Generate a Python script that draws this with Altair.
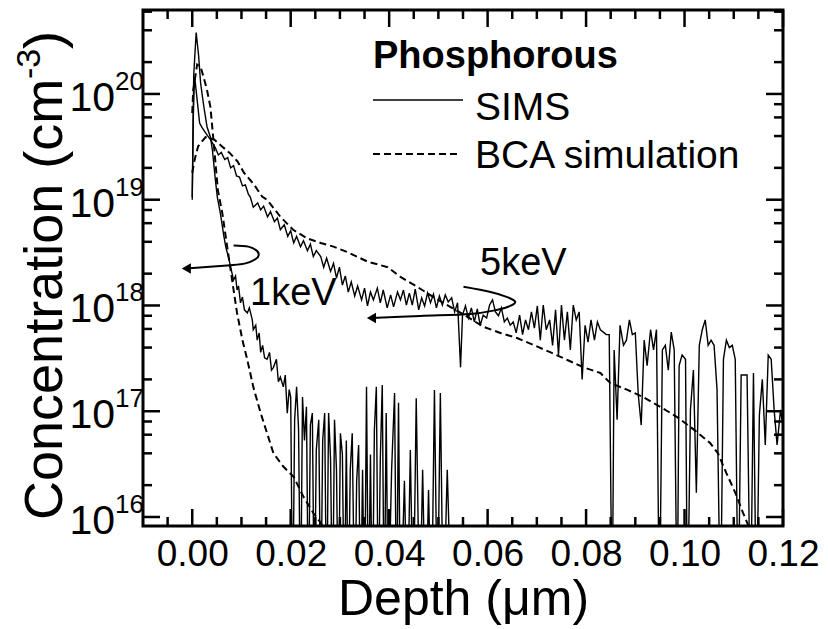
import altair as alt
import pandas as pd

FONT = "Liberation Sans"
W, H = 640, 516
X_DOMAIN = [-0.01, 0.12]
Y_DOMAIN = [8.22e15, 6.22e20]
FLOOR = 1e15  # readings that drop below the axis (zero counts)
B = FLOOR

# ---------------- data ----------------
sims1_depth = [0.0000, 0.0003, 0.0008, 0.0013, 0.0017, 0.0023, 0.0030, 0.0037, 0.0041, 0.0047,
               0.0051, 0.0057, 0.0064, 0.0068, 0.0074, 0.0078, 0.0084, 0.0088, 0.0091, 0.0094,
               0.0098, 0.0102, 0.0106, 0.0112, 0.0116, 0.0122, 0.0124, 0.0129, 0.0132, 0.0136,
               0.0139, 0.0143, 0.0147, 0.0152, 0.0157, 0.0161, 0.0165, 0.0171, 0.0175, 0.0179,
               0.0185, 0.0189, 0.0193, 0.0197, 0.0200,
               0.0204, 0.0208, 0.0212, 0.0216, 0.0220, 0.0224, 0.0228, 0.0232, 0.0236, 0.0240,
               0.0244, 0.0248, 0.0252, 0.0257, 0.0261, 0.0265, 0.0269, 0.0273, 0.0277, 0.0281,
               0.0285, 0.0289, 0.0293, 0.0297, 0.0301, 0.0305, 0.0309, 0.0313, 0.0317, 0.0321,
               0.0325, 0.0330, 0.0334, 0.0338, 0.0342, 0.0346, 0.0350, 0.0354, 0.0358, 0.0362,
               0.0366, 0.0370, 0.0374, 0.0378, 0.0382, 0.0386, 0.0390, 0.0394, 0.0398, 0.0405,
               0.0411, 0.0415, 0.0419, 0.0423, 0.0431, 0.0437, 0.0443, 0.0449, 0.0455, 0.0462,
               0.0468, 0.0474, 0.0480, 0.0486, 0.0492, 0.0498, 0.0504, 0.0510, 0.0518, 0.0527]
sims1_conc = [1.0e19, 1.5e20, 3.8e20, 2.3e20, 1.27e20, 7.9e19, 4.9e19, 3.9e19, 2.95e19, 1.54e19,
              1.06e19, 7.5e18, 4.6e18, 3.6e18, 2.8e18, 2.3e18, 1.74e18, 1.9e18, 1.4e18, 1.53e18,
              1.06e18, 1.2e18, 9.1e17, 8.5e17, 9.5e17, 7.3e17, 5.9e17, 6.5e17, 4.7e17, 5.5e17,
              3.6e17, 4.2e17, 3.2e17, 3.1e17, 3.6e17, 2.45e17, 2.6e17, 3.1e17, 1.9e17, 2.1e17,
              1.7e17, 2.2e17, 9.6e16, 1.6e17, 1.36e17,
              B, 8.3e16, 1.7e17, 6.7e16, B, 1.36e17, 5.3e16, 1.1e17, B, 7.4e16,
              9.6e16, B, 4.3e16, 8.3e16, B, 5.3e16, 9.6e16, B, 9.6e16, 3.5e16,
              B, 8.3e16, 2.8e16, B, 6.2e16, 3.9e16, B, 5.3e16, B, 2.8e16,
              6.2e16, B, 2.2e16, 4.8e16, B, 2.8e16, B, 1.7e17, B, 3.9e16,
              B, 6.7e16, 1.7e17, B, 3.5e16, 1.77e17, B, 9.6e16, B, 2.8e16,
              1.49e17, B, 1.2e17, B, 2.2e16, B, 4.3e16, B, 1.33e17, B,
              2.8e16, B, 1.8e16, B, 1.59e17, B, 1.49e17, B, 2.8e16, B]

sims5_depth = [0.0000, 0.0002, 0.0004, 0.0005, 0.0010, 0.0015, 0.0020, 0.0030, 0.0037, 0.0047,
               0.0053, 0.0059, 0.0066, 0.0072, 0.0078, 0.0084, 0.0090, 0.0096, 0.0102, 0.0108,
               0.0114, 0.0118, 0.0124, 0.0133, 0.0139, 0.0145, 0.0153, 0.0159, 0.0167, 0.0173,
               0.0179, 0.0187, 0.0194, 0.0200, 0.0206, 0.0212, 0.0220, 0.0226, 0.0234, 0.0240,
               0.0246, 0.0252, 0.0261, 0.0267, 0.0273, 0.0281, 0.0287, 0.0293, 0.0299, 0.0305,
               0.0311, 0.0317, 0.0323, 0.0330, 0.0336, 0.0344, 0.0350, 0.0356, 0.0362, 0.0368,
               0.0376, 0.0382, 0.0388, 0.0396, 0.0403, 0.0409, 0.0417, 0.0423, 0.0429, 0.0435,
               0.0441, 0.0447, 0.0453, 0.0460, 0.0466, 0.0472, 0.0478, 0.0484, 0.0490, 0.0496,
               0.0502, 0.0508, 0.0514, 0.0520, 0.0527, 0.0533, 0.0539, 0.0545, 0.0549, 0.0555,
               0.0561, 0.0567, 0.0573, 0.0579, 0.0585, 0.0591, 0.0598, 0.0604, 0.0610, 0.0616,
               0.0622, 0.0628, 0.0634, 0.0640, 0.0646, 0.0652, 0.0658, 0.0665, 0.0671, 0.0677,
               0.0683, 0.0689, 0.0695, 0.0701, 0.0707, 0.0713, 0.0719, 0.0726, 0.0732, 0.0738,
               0.0744, 0.0750, 0.0756, 0.0762, 0.0768, 0.0774, 0.0780, 0.0786, 0.0792, 0.0798,
               0.0804, 0.0810, 0.0817, 0.0823, 0.0829, 0.0835, 0.0841, 0.0847, 0.0853, 0.0857,
               0.0863, 0.0869, 0.0876, 0.0882, 0.0888, 0.0894, 0.0900, 0.0906, 0.0912, 0.0918,
               0.0924, 0.0931, 0.0937, 0.0943, 0.0949, 0.0955, 0.0961, 0.0967, 0.0973, 0.0979,
               0.0985, 0.0989, 0.0995, 0.1002, 0.1006, 0.1012, 0.1018, 0.1024, 0.1030, 0.1036,
               0.1042, 0.1048, 0.1054, 0.1060, 0.1066, 0.1073, 0.1079, 0.1085, 0.1091, 0.1097,
               0.1103, 0.1109, 0.1115, 0.1121, 0.1127, 0.1134, 0.1140, 0.1146, 0.1152, 0.1158,
               0.1164, 0.1170, 0.1176, 0.1182, 0.1188, 0.1195, 0.1201]
sims5_conc = [1.06e19, 5.7e19, 1.22e20, 1.45e20, 8.8e19, 5.3e19, 4.8e19, 4.1e19, 3.7e19, 3.1e19,
              2.65e19, 2.8e19, 2.4e19, 2.5e19, 2.0e19, 2.1e19, 1.68e19, 1.64e19, 1.35e19, 1.38e19,
              1.13e19, 1.06e19, 8.5e18, 9.3e18, 8.0e18, 8.7e18, 6.9e18, 7.7e18, 6.2e18, 6.7e18,
              5.2e18, 5.8e18, 4.5e18, 5.1e18, 3.9e18, 4.5e18, 3.6e18, 4.1e18, 3.3e18, 3.8e18,
              2.9e18, 3.3e18, 2.9e18, 2.3e18, 2.8e18, 2.1e18, 2.5e18, 1.82e18, 2.3e18, 1.56e18,
              1.9e18, 1.34e18, 1.67e18, 1.23e18, 1.53e18, 1.13e18, 1.46e18, 9.9e17, 1.34e18, 1.13e18,
              1.46e18, 1.06e18, 1.4e18, 9.5e17, 1.26e18, 9.7e17, 1.34e18, 1.13e18, 1.4e18, 1.01e18,
              1.31e18, 1.01e18, 1.43e18, 9.1e17, 1.18e18, 9.9e17, 1.31e18, 1.06e18, 1.28e18, 9.5e17,
              1.23e18, 1.01e18, 1.26e18, 1.08e18, 1.18e18, 8.7e17, 1.06e18, 2.6e17, 8.1e17, 9.9e17,
              7.6e17, 9.5e17, 7.0e17, 9.3e17, 6.5e17, 8.1e17, 7.6e17, 1.01e18, 1.13e18, 8.7e17,
              8.0e17, 9.5e17, 7.0e17, 7.6e17, 6.5e17, 7.0e17, 5.5e17, 8.1e17, 5.3e17, 7.3e17,
              5.9e17, 8.7e17, 6.1e17, 9.9e17, 4.7e17, 1.01e18, 5.9e17, 7.3e17, 4.2e17, 9.1e17,
              3.4e17, 1.01e18, 4.7e17, 8.7e17, 3.8e17, 1.01e18, 7.3e17, 8.7e17, 2.0e17, 6.5e17,
              4.5e17, 7.3e17, 4.7e17, 7.0e17, 5.9e17, 5.6e17, 5.3e17, 5.3e17, B, 3.8e17,
              8.3e16, 6.5e17, 4.2e17, 4.7e17, 7.3e17, 5.3e17, 5.5e17, 1.43e17, 7.4e16, 4.7e17,
              2.7e17, 5.9e17, 3.8e17, 5.9e17, B, 3.8e17, 4.2e17, 2.45e17, 5.6e17, 3.8e17,
              B, 2.7e17, 3.4e17, 3.1e17, B, 1.03e17, 2.45e17, 1.7e16, 4.2e17, 5.9e17,
              7.3e17, 4.2e17, 4.7e17, 4.2e17, 1.6e17, B, 3.1e17, 4.7e17, 4.0e17, 4.2e17,
              3.1e17, B, 2.2e17, 2.2e17, 2.2e17, B, 2.3e17, B, 9.2e16, 2.0e17,
              4.8e16, 3.4e17, 3.1e17, 1.03e17, 4.8e16, 1.03e17, 6.7e16]

bca1_depth = [0.0000, 0.0002, 0.0010, 0.0017, 0.0023, 0.0030, 0.0037, 0.0043, 0.0049, 0.0052,
              0.0061, 0.0071, 0.0081, 0.0091, 0.0102, 0.0112, 0.0124, 0.0139, 0.0152, 0.0165,
              0.0185, 0.0206, 0.0226, 0.0246, 0.0261, 0.0275]
bca1_conc = [6.6e19, 1.09e20, 1.9e20, 1.8e20, 1.45e20, 1.09e20, 7.5e19, 3.7e19, 1.8e19, 1.24e19,
             7.5e18, 3.6e18, 1.74e18, 8.5e17, 4.7e17, 3.05e17, 1.7e17, 9.6e16, 6.2e16, 4.0e16,
             3.0e16, 2.4e16, 1.55e16, 1.09e16, 8.8e15, 6.5e15]

bca5_depth = [0.0000, 0.0005, 0.0012, 0.0027, 0.0045, 0.0060, 0.0075, 0.0092, 0.0105, 0.0125,
              0.0142, 0.0152, 0.0179, 0.0205, 0.0234, 0.0261, 0.0287, 0.0315, 0.0356, 0.0397,
              0.0423, 0.0457, 0.0490, 0.0524, 0.0559, 0.0591, 0.0626, 0.0661, 0.0695, 0.0728,
              0.0762, 0.0795, 0.0829, 0.0849, 0.0883, 0.0916, 0.0951, 0.0985, 0.1019, 0.1052,
              0.1068, 0.1085, 0.1103, 0.1119, 0.1130]
bca5_conc = [1.8e19, 2.4e19, 3.2e19, 3.9e19, 3.7e19, 3.2e19, 2.8e19, 2.3e19, 1.8e19, 1.4e19,
             1.07e19, 1.0e19, 6.9e18, 5.2e18, 4.3e18, 3.9e18, 3.6e18, 3.2e18, 2.6e18, 2.3e18,
             1.86e18, 1.5e18, 1.2e18, 9.7e17, 7.8e17, 6.3e17, 5.5e17, 4.9e17, 4.2e17, 3.6e17,
             3.05e17, 2.6e17, 2.3e17, 1.85e17, 1.6e17, 1.36e17, 1.1e17, 8.8e16, 6.7e16, 5.0e16,
             4.0e16, 2.6e16, 1.7e16, 1.09e16, 8.2e15]

# annotation arrows (loop + leftward arrow), in data units
arrow1_depth = [0.0084, 0.0114, 0.0131, 0.0135, 0.0129, 0.0108, 0.0078, -0.0012]
arrow1_conc = [3.7e18, 3.6e18, 3.3e18, 3.0e18, 2.75e18, 2.5e18, 2.4e18, 2.24e18]
arrow2_depth = [0.0551, 0.0606, 0.0640, 0.0656, 0.0646, 0.0620, 0.0565, 0.0463, 0.0364]
arrow2_conc = [1.5e18, 1.34e18, 1.2e18, 1.08e18, 9.9e17, 9.1e17, 8.3e17, 7.96e17, 7.6e17]

x_major = [0.0, 0.02, 0.04, 0.06, 0.08, 0.10, 0.12]
x_minor = [-0.005, 0.005, 0.01, 0.015, 0.025, 0.03, 0.035, 0.045, 0.05, 0.055, 0.065, 0.07,
           0.075, 0.085, 0.09, 0.095, 0.105, 0.11, 0.115]
y_major = [1e16, 1e17, 1e18, 1e19, 1e20]
y_exp = ["16", "17", "18", "19", "20"]
y_minor = [m * 10.0 ** e for e in range(15, 21) for m in (2, 4, 6, 8)
           if Y_DOMAIN[0] <= m * 10.0 ** e <= Y_DOMAIN[1]]

# ---------------- chart ----------------
xs = alt.Scale(domain=X_DOMAIN, nice=False, zero=False)
ys = alt.Scale(type="log", domain=Y_DOMAIN, nice=False)
xaxis = alt.Axis(values=x_major, format=".2f", domain=False, ticks=False, grid=False,
                 labelFontSize=37, labelFont=FONT, labelColor="black", labelPadding=10,
                 labelFlush=False, labelOverlap=False,
                 title="Depth (μm)", titleFont=FONT, titleFontSize=50, titleFontWeight="normal",
                 titleColor="black", titlePadding=2)
xenc = alt.X("d:Q", scale=xs, axis=xaxis)
yenc = alt.Y("c:Q", scale=ys, axis=None)


def df(d, c):
    return pd.DataFrame({"d": d, "c": c, "i": list(range(len(d)))})


layers = []
layers.append(alt.Chart(df(bca5_depth, bca5_conc)).mark_line(
    color="black", strokeWidth=2, strokeDash=[7, 4], clip=True).encode(x=xenc, y=yenc))
layers.append(alt.Chart(df(bca1_depth, bca1_conc)).mark_line(
    color="black", strokeWidth=2, strokeDash=[7, 4], clip=True).encode(x=xenc, y=yenc))
layers.append(alt.Chart(df(sims5_depth, sims5_conc)).mark_line(
    color="black", strokeWidth=1.4, clip=True).encode(x=xenc, y=yenc, order="i:Q"))
layers.append(alt.Chart(df(sims1_depth, sims1_conc)).mark_line(
    color="black", strokeWidth=1.4, clip=True).encode(x=xenc, y=yenc, order="i:Q"))

for ad, ac in ((arrow1_depth, arrow1_conc), (arrow2_depth, arrow2_conc)):
    layers.append(alt.Chart(df(ad, ac)).mark_line(
        color="black", strokeWidth=2, interpolate="cardinal").encode(x=xenc, y=yenc, order="i:Q"))
    layers.append(alt.Chart(df([ad[-1]], [ac[-1]])).mark_point(
        shape="triangle-left", filled=True, size=110, color="black", opacity=1).encode(x=xenc, y=yenc))

# inward ticks on all four sides
for vals, ln in ((x_major, 17), (x_minor, 9)):
    t = pd.DataFrame({"d": vals})
    layers.append(alt.Chart(t).mark_rule(color="black", strokeWidth=2.5).encode(
        x=xenc, y=alt.value(H), y2=alt.value(H - ln)))
    layers.append(alt.Chart(t).mark_rule(color="black", strokeWidth=2.5).encode(
        x=xenc, y=alt.value(0), y2=alt.value(ln)))
for vals, ln in ((y_major, 17), (y_minor, 9)):
    t = pd.DataFrame({"c": vals})
    layers.append(alt.Chart(t).mark_rule(color="black", strokeWidth=2.5).encode(
        y=yenc, x=alt.value(0), x2=alt.value(ln)))
    layers.append(alt.Chart(t).mark_rule(color="black", strokeWidth=2.5).encode(
        y=yenc, x=alt.value(W), x2=alt.value(W - ln)))

# y tick labels 10^n
ylab = pd.DataFrame({"c": y_major, "base": ["10"] * len(y_major), "exp": y_exp})
layers.append(alt.Chart(ylab).mark_text(align="right", baseline="middle", fontSize=41, font=FONT,
                                        color="black", dy=5).encode(
    y=yenc, x=alt.value(-28), text="base:N"))
layers.append(alt.Chart(ylab).mark_text(align="left", baseline="middle", fontSize=26, font=FONT,
                                        color="black", dy=-12).encode(
    y=yenc, x=alt.value(-28), text="exp:N"))


def txt(s, x, y, size, **kw):
    return alt.Chart(pd.DataFrame({"t": [s]})).mark_text(
        fontSize=size, font=FONT, color="black", **kw).encode(
        x=alt.value(x), y=alt.value(y), text="t:N")


# y axis title with superscript
layers.append(txt("Concentration (cm", -81, 510, 54, angle=270, align="left", baseline="alphabetic"))
layers.append(txt("-3", -103, 69, 34, angle=270, align="left", baseline="alphabetic"))
layers.append(txt(")", -81, 39, 54, angle=270, align="left", baseline="alphabetic"))

# legend
layers.append(txt("Phosphorous", 230, 58, 38, align="left", baseline="alphabetic", fontWeight="bold"))
layers.append(alt.Chart(pd.DataFrame({"k": [0]})).mark_rule(color="black", strokeWidth=1.5).encode(
    x=alt.value(230), x2=alt.value(320), y=alt.value(90)))
layers.append(txt("SIMS", 332, 110, 39, align="left", baseline="alphabetic"))
layers.append(alt.Chart(pd.DataFrame({"k": [0]})).mark_rule(
    color="black", strokeWidth=2, strokeDash=[7, 4]).encode(
    x=alt.value(230), x2=alt.value(314), y=alt.value(144)))
layers.append(txt("BCA simulation", 332, 158, 39, align="left", baseline="alphabetic"))

# energy annotations
layers.append(txt("1keV", 107, 295, 38, align="left", baseline="alphabetic"))
layers.append(txt("5keV", 337, 265, 38, align="left", baseline="alphabetic"))

chart = alt.layer(*layers).properties(
    width=W, height=H,
    autosize=alt.AutoSizeParams(type="none"),
    padding={"left": 143, "top": 10, "right": 45, "bottom": 103},
    background="white",
).configure_view(stroke="black", strokeWidth=3)

chart.save("out.html", embed_options={"renderer": "svg", "actions": False})
